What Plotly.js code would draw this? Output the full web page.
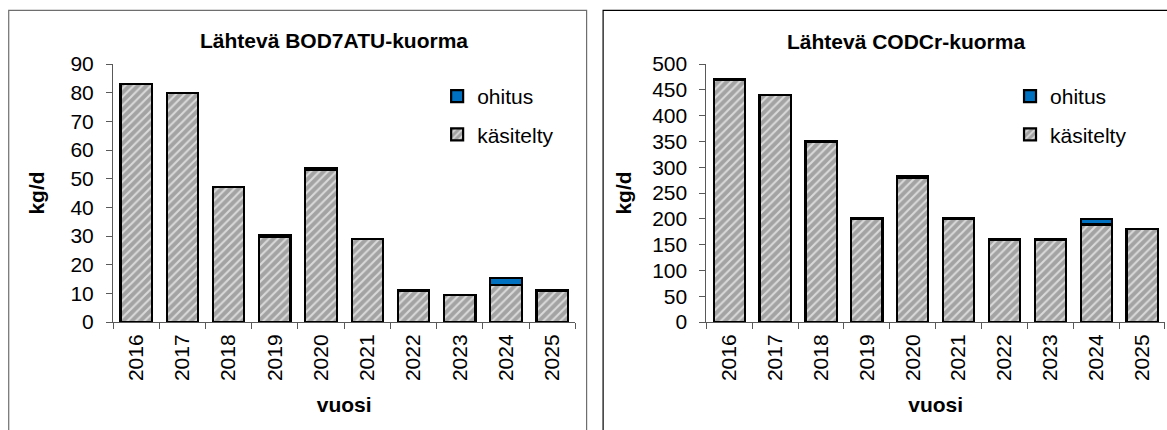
<!DOCTYPE html>
<html>
<head>
<meta charset="utf-8">
<script src="https://cdn.plot.ly/plotly-3.0.1.min.js"></script>
<style>
html,body{margin:0;padding:0;background:#fff;}
#chart{width:1167px;height:430px;}
</style>
</head>
<body>
<div id="chart"></div>
<script>
// ---- data ----
const years = ['2016','2017','2018','2019','2020','2021','2022','2023','2024','2025'];
const bodKasitelty = [83, 80, 47, 29.8, 53.1, 29, 11, 9.3, 12.8, 11];
const bodOhitus    = [0, 0, 0, 0.4, 0.7, 0, 0, 0, 2.5, 0];
const codKasitelty = [470, 440, 350, 199, 280, 199, 160, 160, 189, 180];
const codOhitus    = [0, 0, 0, 1.5, 3.5, 1.5, 0, 0, 11, 0];
const titleBod = 'Lähtevä BOD7ATU-kuorma';
const titleCod = 'Lähtevä CODCr-kuorma';
const nameOhitus = 'ohitus';
const nameKasitelty = 'käsitelty';
const yTitle = 'kg/d';
const xTitle = 'vuosi';

// ---- geometry helpers (pixel -> paper) ----
const WIDTH = 1167, HEIGHT = 430;
const ML = 112.8, MR = 2, MT = 64, MB = 108.3;
const PW = WIDTH - ML - MR, PH = HEIGHT - MT - MB;
const px = v => (v - ML) / PW;
const py = v => (HEIGHT - MB - v) / PH;

const FONT = 'Liberation Sans, Arial, sans-serif';
const AXC = '#595959';
const hatch = {shape: '/', fgcolor: '#dadada', bgcolor: '#a3a3a3', size: 6, solidity: 0.35};
const outline = {color: '#000000', width: 2.2};
const noZero = arr => arr.map(v => (v === 0 ? null : v));

function kasTrace(y, xa, ya, leg, grp) {
  return {type: 'bar', name: nameKasitelty, x: years, y: y, xaxis: xa, yaxis: ya,
    legend: leg, legendgroup: grp + 'k', legendrank: 2,
    marker: {color: '#a3a3a3', pattern: hatch, line: outline}, hoverinfo: 'x+y'};
}
function ohTrace(y, xa, ya, leg, grp) {
  return {type: 'bar', name: nameOhitus, x: years, y: noZero(y), xaxis: xa, yaxis: ya,
    legend: leg, legendgroup: grp + 'o', legendrank: 1,
    marker: {color: '#0070c0', line: outline}, hoverinfo: 'x+y'};
}

const data = [
  kasTrace(bodKasitelty, 'x', 'y', 'legend', 'a'),
  ohTrace(bodOhitus, 'x', 'y', 'legend', 'a'),
  kasTrace(codKasitelty, 'x2', 'y2', 'legend2', 'b'),
  ohTrace(codOhitus, 'x2', 'y2', 'legend2', 'b')
];

const tickFont = {family: FONT, size: 21, color: '#000'};
const boldFont = {family: FONT, size: 21, color: '#000', weight: 'bold'};

function xAxis(domain, anchor) {
  return {domain: domain, anchor: anchor, type: 'category', range: [-0.5, 9.5],
    categoryorder: 'array', categoryarray: years,
    showline: true, linecolor: AXC, linewidth: 1, showgrid: false, zeroline: false,
    ticks: 'outside', tickson: 'boundaries', ticklen: 6, tickcolor: AXC, tickwidth: 1,
    tickangle: -90, tickfont: tickFont, ticklabelstandoff: 3,
    title: {text: xTitle, font: boldFont, standoff: 17}, fixedrange: true};
}
function yAxis(domain, anchor, max, dtick, standoff) {
  return {domain: domain, anchor: anchor, range: [0, max], dtick: dtick, tick0: 0,
    showline: true, linecolor: AXC, linewidth: 1, showgrid: false, zeroline: false,
    ticks: 'outside', ticklen: 6, tickcolor: AXC, tickwidth: 1,
    tickfont: tickFont, ticklabelstandoff: 8,
    title: {text: yTitle, font: boldFont, standoff: standoff}, fixedrange: true};
}
function innerX(over, anchor) {
  return {overlaying: over, anchor: anchor, range: [-0.5, 9.5], tick0: -0.5, dtick: 1,
    ticks: 'inside', ticklen: 7, tickcolor: AXC, tickwidth: 1, showticklabels: false,
    showline: false, showgrid: false, zeroline: false, fixedrange: true};
}
function innerY(over, anchor, max, dtick) {
  return {overlaying: over, anchor: anchor, range: [0, max], tick0: 0, dtick: dtick,
    ticks: 'inside', ticklen: 6, tickcolor: AXC, tickwidth: 1, showticklabels: false,
    showline: false, showgrid: false, zeroline: false, fixedrange: true};
}

const dL = [0, px(575.3)];
const dR = [px(706.3), px(1165)];

const legendBase = {
  font: {family: FONT, size: 21, color: '#000'},
  bgcolor: 'rgba(0,0,0,0)', borderwidth: 0,
  xanchor: 'left', yanchor: 'top', traceorder: 'grouped',
  tracegroupgap: 8, itemwidth: 30
};

const layout = {
  width: WIDTH, height: HEIGHT,
  margin: {l: ML, r: MR, t: MT, b: MB, pad: 0},
  paper_bgcolor: '#fff', plot_bgcolor: 'rgba(0,0,0,0)',
  barmode: 'stack', bargap: 0.32,
  font: {family: FONT, color: '#000'},
  xaxis: xAxis(dL, 'y'),
  yaxis: yAxis([0, 1], 'x', 90, 10, 20),
  xaxis2: xAxis(dR, 'y2'),
  yaxis2: yAxis([0, 1], 'x2', 500, 50, 14),
  xaxis3: innerX('x', 'y'),
  yaxis3: innerY('y', 'x', 90, 10),
  xaxis4: innerX('x2', 'y2'),
  yaxis4: innerY('y2', 'x2', 500, 50),
  legend: Object.assign({}, legendBase, {x: px(437), y: py(76)}),
  legend2: Object.assign({}, legendBase, {x: px(1010), y: py(76)}),
  annotations: [
    {text: titleBod, xref: 'paper', yref: 'paper', x: px(334), y: py(41),
     xanchor: 'center', yanchor: 'middle', showarrow: false, font: boldFont},
    {text: titleCod, xref: 'paper', yref: 'paper', x: px(905.6), y: py(42),
     xanchor: 'center', yanchor: 'middle', showarrow: false, font: boldFont}
  ],
  shapes: [
    {type: 'rect', xref: 'paper', yref: 'paper', x0: px(8.5), x1: px(586.5),
     y0: py(470), y1: py(10.5), line: {color: '#6e6e6e', width: 1.2}, layer: 'below'},
    {type: 'rect', xref: 'paper', yref: 'paper', x0: px(603), x1: px(1180),
     y0: py(470), y1: py(10.5), line: {color: '#000', width: 1.2}, layer: 'below'}
  ],
  showlegend: true,
  hovermode: false
};

Plotly.newPlot('chart', data, layout, {displayModeBar: false, staticPlot: true});
</script>
</body>
</html>
